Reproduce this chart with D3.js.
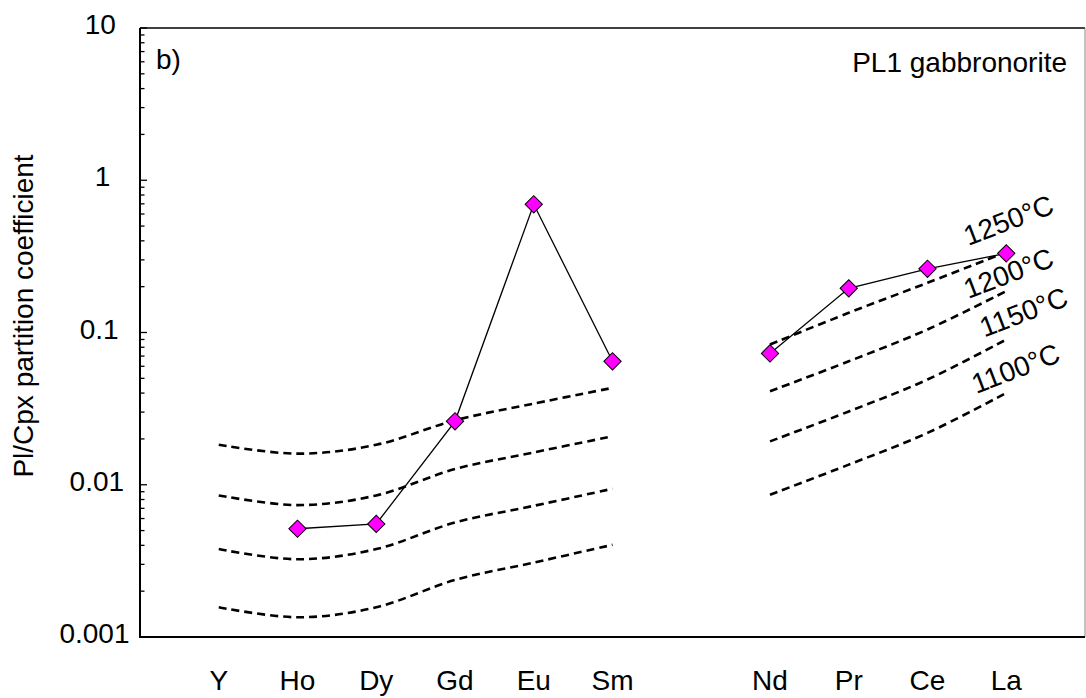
<!DOCTYPE html>
<html>
<head>
<meta charset="utf-8">
<script src="https://cdn.jsdelivr.net/npm/d3@7"></script>
<style>
  html, body { margin: 0; padding: 0; background: #fff; }
  svg { display: block; font-family: "Liberation Sans", Arial, sans-serif; }
</style>
</head>
<body>
<svg id="chart" width="1086" height="698"></svg>
<script>
// ---- data ----
const elements = ["Y", "Ho", "Dy", "Gd", "Eu", "Sm", "", "Nd", "Pr", "Ce", "La"];
const samplePL1 = [null, 0.00514, 0.00553, 0.0261, 0.695, 0.0647, null, 0.0728, 0.195, 0.262, 0.331];
const model1250 = [0.0183, 0.0160, 0.0183, 0.0265, 0.0341, 0.0433, null, 0.0834, 0.1347, 0.212, 0.338];
const model1200 = [0.00851, 0.00735, 0.00851, 0.01268, 0.0163, 0.0208, null, 0.0411, 0.0647, 0.1047, 0.187];
const model1150 = [0.00378, 0.00324, 0.00378, 0.00565, 0.00727, 0.00941, null, 0.01927, 0.0303, 0.0491, 0.0899];
const model1100 = [0.001567, 0.001348, 0.001567, 0.00237, 0.00308, 0.00403, null, 0.0086, 0.01355, 0.0219, 0.0401];
const modelLabels = ["1250°C", "1200°C", "1150°C", "1100°C"];
const yTickValues = [0.001, 0.01, 0.1, 1, 10];
const yTickLabels = ["0.001", "0.01", "0.1", "1", "10"];
const yTitle = "Pl/Cpx partition coefficient";
const panelLabel = "b)";
const sampleTitle = "PL1 gabbronorite";

// ---- layout ----
const L = 140, R = 1085, T = 28, B = 637;
const svg = d3.select("#chart");
const x = d3.scaleLinear().domain([-1, 11]).range([L, R]);
const y = d3.scaleLog().domain([0.001, 10]).range([B, T]);

// frame
svg.append("line").attr("x1", L).attr("x2", R).attr("y1", T).attr("y2", T)
  .attr("stroke", "#000").attr("stroke-width", 1.5);
svg.append("line").attr("x1", R).attr("x2", R).attr("y1", T).attr("y2", B)
  .attr("stroke", "#888").attr("stroke-width", 1);

// model curves
const models = [model1250, model1200, model1150, model1100];
const curveLine = d3.line()
  .defined(d => d.v != null)
  .x(d => x(d.i)).y(d => y(d.v))
  .curve(d3.curveCardinal.tension(0));
models.forEach(m => {
  svg.append("path")
    .datum(m.map((v, i) => ({ i, v })))
    .attr("d", curveLine)
    .attr("fill", "none")
    .attr("stroke", "#000")
    .attr("stroke-width", 2.6)
    .attr("stroke-dasharray", "8,5");
});

// model labels near the La end of each curve
const labelOffsets = [[-38, -6], [-38, 8], [-22, -2], [-30, 1]];
const last = elements.length - 1;
modelLabels.forEach((t, k) => {
  const px = x(last) + labelOffsets[k][0];
  const py = y(models[k][last]) + labelOffsets[k][1];
  svg.append("text")
    .attr("transform", `translate(${px},${py}) rotate(-21)`)
    .attr("font-size", 28)
    .attr("fill", "#000")
    .text(t);
});

// sample line
const dataLine = d3.line()
  .defined(d => d.v != null)
  .x(d => x(d.i)).y(d => y(d.v));
const samplePts = samplePL1.map((v, i) => ({ i, v }));
svg.append("path")
  .datum(samplePts)
  .attr("d", dataLine)
  .attr("fill", "none")
  .attr("stroke", "#000")
  .attr("stroke-width", 1.3);
svg.selectAll("path.marker")
  .data(samplePts.filter(d => d.v != null))
  .join("path")
  .attr("class", "marker")
  .attr("d", d3.symbol(d3.symbolSquare, 150))
  .attr("transform", d => `translate(${x(d.i)},${y(d.v)}) rotate(45)`)
  .attr("fill", "#ff00ff")
  .attr("stroke", "#000")
  .attr("stroke-width", 1);

// left axis (ticks inward)
svg.append("line").attr("x1", L).attr("x2", L).attr("y1", T).attr("y2", B)
  .attr("stroke", "#000").attr("stroke-width", 2);
y.ticks().forEach(t => {
  const major = yTickValues.some(v => Math.abs(v - t) / v < 1e-9);
  svg.append("line")
    .attr("x1", L).attr("x2", L + (major ? 7 : 4.5))
    .attr("y1", y(t)).attr("y2", y(t))
    .attr("stroke", "#000").attr("stroke-width", 1.3);
});
yTickValues.forEach((v, k) => {
  const t = svg.append("text")
    .attr("y", y(v) + 6)
    .attr("text-anchor", "end")
    .attr("font-size", 28)
    .text(yTickLabels[k]);
  const w = t.node().getComputedTextLength();
  t.attr("x", 105 + 0.35 * w);
});

// bottom axis
svg.append("line").attr("x1", L - 1).attr("x2", R).attr("y1", B).attr("y2", B)
  .attr("stroke", "#000").attr("stroke-width", 2);
elements.forEach((e, i) => {
  if (!e) return;
  svg.append("text")
    .attr("x", x(i)).attr("y", 690)
    .attr("text-anchor", "middle")
    .attr("font-size", 28)
    .text(e);
});

// titles
svg.append("text")
  .attr("transform", `translate(33,316) rotate(-90)`)
  .attr("text-anchor", "middle")
  .attr("font-size", 28)
  .text(yTitle);
svg.append("text")
  .attr("x", 156).attr("y", 69)
  .attr("font-size", 28)
  .text(panelLabel);
svg.append("text")
  .attr("x", 1067).attr("y", 72)
  .attr("text-anchor", "end")
  .attr("font-size", 28)
  .text(sampleTitle);
</script>
</body>
</html>
